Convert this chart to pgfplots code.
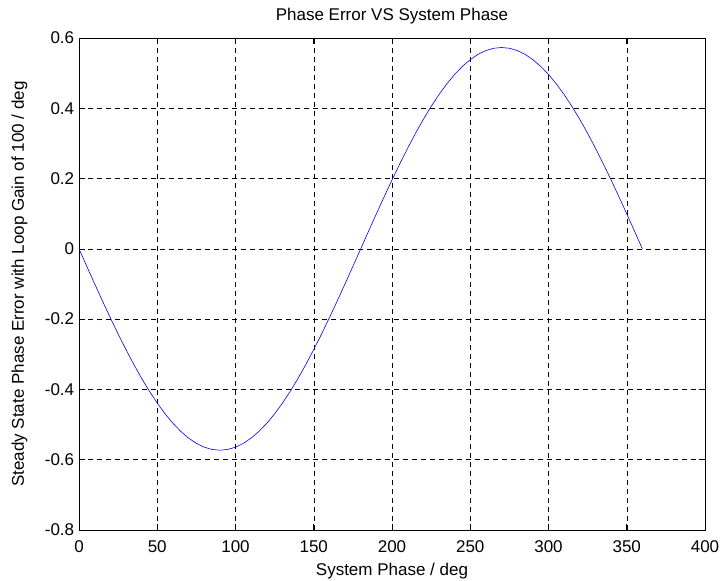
\documentclass[border=0pt]{standalone}
\usepackage{pgfplots}
\pgfplotsset{compat=1.18}
\usepackage{fontspec}
\setmainfont{Liberation Sans}

\begin{document}
\fontsize{17}{20}\selectfont
\begin{tikzpicture}
\begin{axis}[
    scale only axis,
    width=626pt, height=492pt,
    xmin=0, xmax=400, ymin=-0.8, ymax=0.6,
    xtick={0,50,...,400},
    ytick={-0.8,-0.6,...,0.6},
    yticklabel style={/pgf/number format/fixed, /pgf/number format/precision=1},
    /pgf/number format/assume math mode=true,
    tick align=inside,
    major tick length=6pt,
    grid=major,
    major grid style={black, dash pattern=on 5pt off 4pt, line width=0.5pt},
    axis line style={black, line width=0.7pt},
    tick style={black, line width=0.6pt},
    title={Phase Error VS System Phase},
    title style={yshift=2pt},
    xlabel={System Phase / deg},
    ylabel={Steady State Phase Error with Loop Gain of 100 / deg},
    xlabel style={yshift=1pt},
    ylabel style={yshift=6pt},
    xticklabel style={yshift=-5pt},
    yticklabel style={xshift=1pt},
    tick label style={font=\fontsize{17}{20}\selectfont},
    label style={font=\fontsize{17}{20}\selectfont},
    title style={font=\fontsize{17}{20}\selectfont},
]
\addplot[blue, line width=0.6pt] coordinates {
(0,0) (5,-0.0499) (10,-0.0995) (15,-0.1483) (20,-0.1960) (25,-0.2422)
(30,-0.2865) (35,-0.3287) (40,-0.3683) (45,-0.4052) (50,-0.4389)
(55,-0.4694) (60,-0.4962) (65,-0.5193) (70,-0.5384) (75,-0.5535)
(80,-0.5643) (85,-0.5708) (90,-0.5730) (95,-0.5708) (100,-0.5643)
(105,-0.5535) (110,-0.5384) (115,-0.5193) (120,-0.4962) (125,-0.4694)
(130,-0.4389) (135,-0.4052) (140,-0.3683) (145,-0.3287) (150,-0.2865)
(155,-0.2422) (160,-0.1960) (165,-0.1483) (170,-0.0995) (175,-0.0499)
(180,0) (185,0.0499) (190,0.0995) (195,0.1483) (200,0.1960) (205,0.2422)
(210,0.2865) (215,0.3287) (220,0.3683) (225,0.4052) (230,0.4389)
(235,0.4694) (240,0.4962) (245,0.5193) (250,0.5384) (255,0.5535)
(260,0.5643) (265,0.5708) (270,0.5730) (275,0.5708) (280,0.5643)
(285,0.5535) (290,0.5384) (295,0.5193) (300,0.4962) (305,0.4694)
(310,0.4389) (315,0.4052) (320,0.3683) (325,0.3287) (330,0.2865)
(335,0.2422) (340,0.1960) (345,0.1483) (350,0.0995) (355,0.0499)
(360,0)
};
\end{axis}
\pgfresetboundingbox
\path[use as bounding box] (current axis.south west) ++(-79pt,-50pt) rectangle ([shift={(19pt,38pt)}]current axis.north east);
\end{tikzpicture}
\end{document}
